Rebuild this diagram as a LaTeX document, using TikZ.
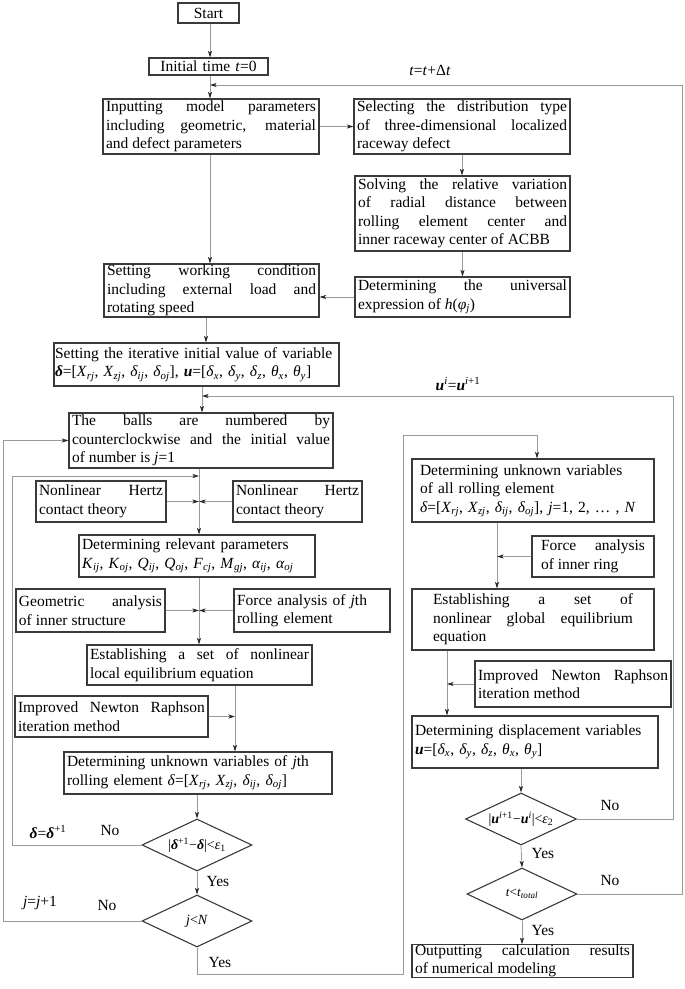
\documentclass[tikz,border=0pt]{standalone}
\usepackage{fontspec}
\setmainfont{Liberation Serif}
\usetikzlibrary{arrows.meta,shapes.geometric}
\definecolor{boxc}{HTML}{3A3A3A}
\definecolor{linec}{HTML}{9A9A9A}
\definecolor{tipc}{HTML}{2A2A2A}
\hyphenpenalty=10000
\exhyphenpenalty=10000
\newcommand\mainsize{\fontsize{15.5}{18.5}\selectfont}
\newcommand\dsize{\fontsize{14}{16}\selectfont}
\newcommand\vs[2]{\textit{#1}\textsubscript{\textit{#2}}}
\newcommand\bd[1]{\textbf{\textit{#1}}}
\newcommand\bx[7][]{%
 \pgfmathsetmacro\bxw{#5-#3}%
 \pgfmathsetmacro\bxh{#6-#4}%
 \pgfmathsetmacro\bxtw{#5-#3-6}%
 \node[box,minimum width=\bxw pt,minimum height=\bxh pt,text width=\bxtw pt,#1] (#2) at ({(#3+#5)/2},{(#4+#6)/2}) {#7};}
\tikzset{
 box/.style={draw=boxc, line width=1.1pt, inner xsep=3pt, inner ysep=0pt, align=justify, font=\mainsize},
 conn/.style={draw=linec, line width=0.8pt},
 arr/.style={conn, -{Stealth[length=6.5pt,width=4pt,inset=1.5pt,color=tipc]}},
 dia/.style={draw=boxc, line width=1.1pt, shape=diamond, inner sep=0pt},
 lab/.style={font=\mainsize, inner sep=0pt},
}
\begin{document}
\begin{tikzpicture}[x=1pt,y=-1pt]
\useasboundingbox (0,0) rectangle (685,989);
\fill[white] (0,0) rectangle (685,989);
% boxes
\bx[align=center]{start}{178}{3}{239}{23}{Start}
\bx[align=center]{init}{149}{58}{268}{75}{Initial time \textit{t}=0}
\bx{inp}{103}{99}{319}{154}{Inputting model parameters\linebreak including geometric, material\linebreak and defect parameters}
\bx{sel}{354}{99}{570}{154}{Selecting the distribution type\linebreak of three-dimensional localized\linebreak raceway defect}
\bx{sol}{355}{176}{570}{251}{Solving the relative variation\linebreak of radial distance between\linebreak rolling element center and\linebreak inner raceway center of ACBB}
\bx{uni}{355}{277}{570}{317}{Determining the universal\linebreak expression of \textit{h}(\textit{φ}\textsubscript{\textit{j}})}
\bx{work}{104}{264}{319}{317}{Setting working condition\linebreak including external load and\linebreak rotating speed}
\bx[align=left,inner xsep=1pt,text width=283pt]{iter}{54}{343}{339}{386}{Setting the iterative initial value of variable\\ \bd{δ}=[\vs{X}{rj}, \vs{X}{zj}, \vs{δ}{ij}, \vs{δ}{oj}], \bd{u}=[\vs{δ}{x}, \vs{δ}{y}, \vs{δ}{z}, \vs{θ}{x}, \vs{θ}{y}]}
\bx{balls}{69}{413}{333}{468}{The balls are numbered by\linebreak counterclockwise and the initial value\linebreak of number is \textit{j}=1}
\bx{hz1}{36}{481}{166}{522}{Nonlinear Hertz\linebreak contact theory}
\bx{hz2}{233}{481}{362}{522}{Nonlinear Hertz\linebreak contact theory}
\bx[align=left]{rel}{79}{535}{315}{577}{Determining relevant parameters\\ \vs{K}{ij}, \vs{K}{oj}, \vs{Q}{ij}, \vs{Q}{oj}, \vs{F}{cj}, \vs{M}{gj}, \vs{α}{ij}, \vs{α}{oj}}
\bx{geo}{16}{589}{165}{632}{Geometric analysis\linebreak of inner structure}
\bx[align=left]{fj}{234}{589}{390}{632}{Force analysis of \textit{j}th\\ rolling element}
\bx{est1}{87}{645}{312}{685}{Establishing a set of nonlinear\linebreak local equilibrium equation}
\bx[text width=187pt]{nr1}{17}{696}{206}{737}{Improved Newton Raphson\linebreak iteration method}
\bx[align=left]{unk1}{64}{752}{332}{794}{Determining unknown variables of \textit{j}th\\ rolling element \textit{δ}=[\vs{X}{rj}, \vs{X}{zj}, \vs{δ}{ij}, \vs{δ}{oj}]}
\bx[align=left,text width=226pt]{unk2}{412}{459}{654}{522}{Determining unknown variables\\ of all rolling element\\ \textit{δ}=[\vs{X}{rj}, \vs{X}{zj}, \vs{δ}{ij}, \vs{δ}{oj}], \textit{j}=1, 2, … , \textit{N}}
\bx[text width=104pt]{fir}{532}{536}{654}{577}{Force analysis\linebreak of inner ring}
\bx[text width=200pt]{est2}{412}{589}{654}{650}{Establishing a set of\linebreak nonlinear global equilibrium\linebreak equation}
\bx[text width=190pt]{nr2}{477}{661}{669}{707}{Improved Newton Raphson\linebreak iteration method}
\bx[align=left]{disp}{412}{716}{658}{768}{Determining displacement variables\\ \bd{u}=[\vs{δ}{x}, \vs{δ}{y}, \vs{δ}{z}, \vs{θ}{x}, \vs{θ}{y}]}
\bx{out}{412}{945}{633}{977}{Outputting calculation results\linebreak of numerical modeling}
% diamonds
\node[dia,minimum width=110pt,minimum height=52pt] (d1) at (197,845) {};
\node[lab,font=\dsize] (d1t) at (d1) {|\bd{δ}\textsuperscript{+1}−\bd{δ}|<\textit{ε}\textsubscript{1}};
\node[dia,minimum width=110pt,minimum height=52pt] (d2) at (197,921) {};
\node[lab,font=\dsize] (d2t) at (d2) {\textit{j}<\textit{N}};
\node[dia,minimum width=111pt,minimum height=52pt] (d3) at (521,819) {};
\node[lab,font=\dsize] (d3t) at (d3) {|\bd{u}\textsuperscript{\textit{i}+1}−\bd{u}\textsuperscript{\textit{i}}|<\textit{ε}\textsubscript{2}};
\node[dia,minimum width=110pt,minimum height=52pt] (d4) at (522,894) {};
\node[lab,font=\fontsize{13}{15}\selectfont] (d4t) at (d4) {\textit{t}<\textit{t}\textsubscript{\textit{total}}};
% labels
\node[lab] (lbt) at (430,70) {\textit{t}=\textit{t}+Δ\textit{t}};
\node[lab] (lbu) at (458,384) {\bd{u}\textsuperscript{\textit{i}}=\bd{u}\textsuperscript{\textit{i}+1}};
\node[lab] (lbd) at (48,832) {\bd{δ}=\bd{δ}\textsuperscript{+1}};
\node[lab] (no1) at (110,830) {No};
\node[lab] (ye1) at (218,881) {Yes};
\node[lab] (lbj) at (40,903) {\textit{j}=\textit{j}+1};
\node[lab] (no2) at (107,905) {No};
\node[lab] (ye2) at (220,962) {Yes};
\node[lab] (no3) at (610,805) {No};
\node[lab] (ye3) at (543,853) {Yes};
\node[lab] (no4) at (610,880) {No};
\node[lab] (ye4) at (543,930) {Yes};
% spine coordinates
\coordinate (sT) at (210,0);
\coordinate (sW) at (206,0);
\coordinate (sC) at (202,0);
\coordinate (sA) at (199,0);
\coordinate (sB) at (235,0);
\coordinate (sD) at (537,0);
\coordinate (sR1) at (497,0);
\coordinate (sR2) at (447,0);
\coordinate (l1) at (12,476);
\coordinate (l2x) at (3,0);
\coordinate (l3) at (673,396);
\coordinate (l4) at (682,85);
\coordinate (l5) at (403,974);
\coordinate (l6) at (403,435);
% connectors
\draw[arr] (start.south -| sT) -- (init.north -| sT);
\draw[arr] (init.south -| sT) -- (inp.north -| sT);
\draw[arr] (inp.east) -- (sel.west);
\draw[arr] (sel.south) -- (sel.south |- sol.north);
\draw[arr] (sol.south) -- (sol.south |- uni.north);
\draw[arr] (inp.south -| sT) -- (work.north -| sT);
\draw[arr] (uni.west) -- (uni.west -| work.east);
\draw[arr] (work.south -| sW) -- (iter.north -| sW);
\draw[arr] (iter.south -| sC) -- (balls.north -| sC);
\draw[arr] (balls.south -| sA) -- (rel.north -| sA);
\draw[arr] (hz1.east) -- (hz1.east -| sA);
\draw[arr] (hz2.west) -- (hz2.west -| sA);
\draw[arr] (rel.south -| sA) -- (est1.north -| sA);
\draw[arr] (geo.east) -- (geo.east -| sA);
\draw[arr] (fj.west) -- (fj.west -| sA);
\draw[arr] (est1.south -| sB) -- (unk1.north -| sB);
\draw[arr] (nr1.east) -- (nr1.east -| sB);
\draw[arr] (unk1.south -| d1.north) -- (d1.north);
\draw[arr] (d1.south) -- (d2.north);
\draw[arr] (d1.west) -- (d1.west -| l1) -- (l1) -- (l1 -| sA);
\draw[arr] (d2.west) -- (d2.west -| l2x) |- (balls.west);
\draw[arr] (d2.south) -- (d2.south |- l5) -- (l5) -- (l6) -- (l6 -| sD) -- (unk2.north -| sD);
\draw[arr] (unk2.south -| sR1) -- (est2.north -| sR1);
\draw[arr] (fir.west) -- (fir.west -| sR1);
\draw[arr] (est2.south -| sR2) -- (disp.north -| sR2);
\draw[arr] (nr2.west) -- (nr2.west -| sR2);
\draw[arr] (disp.south -| d3.north) -- (d3.north);
\draw[arr] (d3.south) -- (d4.north);
\draw[arr] (d4.south) -- (d4.south |- out.north);
\draw[arr] (d3.east) -- (d3.east -| l3) -- (l3) -- (l3 -| sC);
\draw[arr] (d4.east) -- (d4.east -| l4) -- (l4) -- (l4 -| sT);
\end{tikzpicture}
\end{document}
